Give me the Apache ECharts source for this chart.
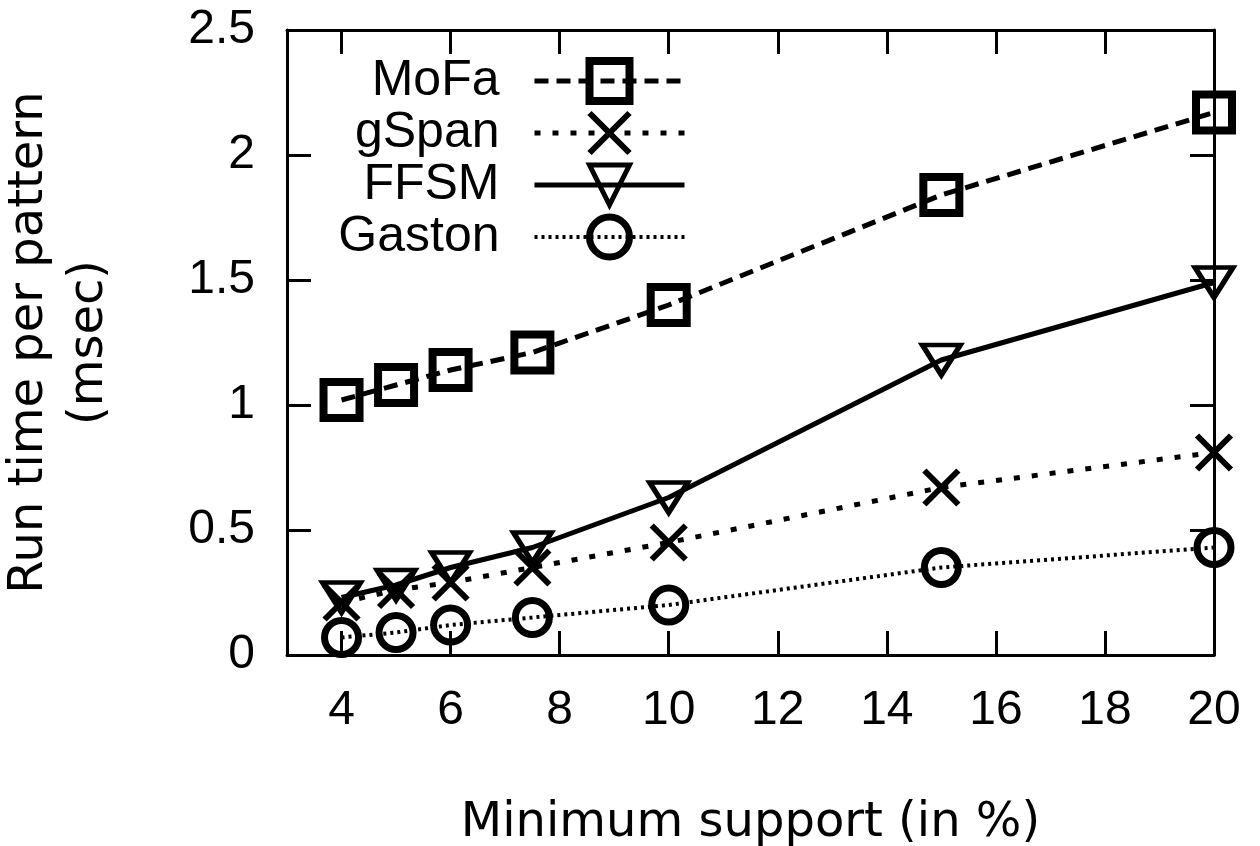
<!DOCTYPE html>
<html>
<head>
<meta charset="utf-8">
<script src="https://cdn.jsdelivr.net/npm/echarts@6/dist/echarts.min.js"></script>
<style>
  html, body { margin: 0; padding: 0; background: #fff; }
  #main { width: 1260px; height: 846px; }
</style>
</head>
<body>
<div id="main"></div>
<script>
// minimum support (%) values
var support = [4, 5, 6, 7.5, 10, 15, 20];
// run time per pattern (msec)
var mofa = [1.02, 1.08, 1.14, 1.21, 1.40, 1.84, 2.17];
var gspan = [0.21, 0.26, 0.29, 0.35, 0.45, 0.67, 0.81];
var ffsm = [0.23, 0.28, 0.35, 0.43, 0.63, 1.18, 1.49];
var gaston = [0.07, 0.09, 0.12, 0.15, 0.20, 0.35, 0.43];

var names = ['MoFa', 'gSpan', 'FFSM', 'Gaston'];

function pairs(ys) {
  return support.map(function (x, i) { return [x, ys[i]]; });
}

var chartDom = document.getElementById('main');
var myChart = echarts.init(chartDom, null, { renderer: 'canvas' });
var option;

var tickFont = 'Liberation Sans, Arial, Helvetica, sans-serif';
var titleFont = 'DejaVu Sans, Verdana, sans-serif';
var black = '#000';

// fresh objects each time, echarts merges into them
function frameLine() {
  return { show: true, onZero: false, lineStyle: { color: black, width: 3 } };
}
function innerTick() {
  return { show: true, inside: true, length: 24, lineStyle: { color: black, width: 3 } };
}

var crossPath = 'path://M0,0 L10,10 M10,0 L0,10';

option = {
  backgroundColor: '#fff',
  animation: false,
  grid: { left: 287, right: 46, top: 30, bottom: 191, containLabel: false, outerBoundsMode: 'none' },
  legend: {
    orient: 'vertical',
    right: 568,
    top: 51,
    align: 'right',
    itemWidth: 150,
    itemHeight: 50,
    itemGap: 2,
    data: [
      { name: names[0], itemStyle: { borderWidth: 8 }, lineStyle: { width: 5 } },
      { name: names[1], itemStyle: { borderWidth: 6 }, lineStyle: { width: 5 } },
      { name: names[2], itemStyle: { borderWidth: 5 }, lineStyle: { width: 5 } },
      { name: names[3], itemStyle: { borderWidth: 7 }, lineStyle: { width: 4 } }
    ],
    textStyle: {
      fontFamily: tickFont,
      fontSize: 50,
      lineHeight: 50,
      color: black,
      padding: [0, 30, 0, 0]
    }
  },
  xAxis: [
    {
      type: 'value',
      min: 3,
      max: 20,
      splitNumber: 8,
      name: 'Minimum support (in %)',
      nameLocation: 'middle',
      nameGap: 145,
      nameTextStyle: { fontFamily: titleFont, fontSize: 48, color: black },
      axisLine: frameLine(),
      axisTick: innerTick(),
      splitLine: { show: false },
      axisLabel: {
        showMinLabel: false,
        margin: 32,
        fontFamily: tickFont,
        fontSize: 48,
        color: black
      }
    },
    {
      type: 'value',
      position: 'top',
      min: 3,
      max: 20,
      splitNumber: 8,
      axisLine: frameLine(),
      axisTick: innerTick(),
      splitLine: { show: false },
      axisLabel: { show: false }
    }
  ],
  yAxis: [
    {
      type: 'value',
      min: 0,
      max: 2.5,
      interval: 0.5,
      name: 'Run time per pattern\n(msec)',
      nameLocation: 'middle',
      nameRotate: 90,
      nameGap: 167,
      nameTextStyle: { fontFamily: titleFont, fontSize: 48, color: black, lineHeight: 60 },
      axisLine: frameLine(),
      axisTick: innerTick(),
      splitLine: { show: false },
      axisLabel: {
        margin: 32,
        fontFamily: tickFont,
        fontSize: 48,
        color: black
      }
    },
    {
      type: 'value',
      position: 'right',
      min: 0,
      max: 2.5,
      interval: 0.5,
      axisLine: frameLine(),
      axisTick: innerTick(),
      splitLine: { show: false },
      axisLabel: { show: false }
    }
  ],
  series: [
    {
      name: 'MoFa',
      type: 'line',
      data: pairs(mofa),
      symbol: 'rect',
      symbolSize: 36,
      itemStyle: { color: 'rgba(0,0,0,0)', borderColor: black, borderWidth: 8 },
      lineStyle: { color: black, width: 5, type: [14, 8] }
    },
    {
      name: 'gSpan',
      type: 'line',
      data: pairs(gspan),
      symbol: crossPath,
      symbolSize: 34,
      itemStyle: { color: 'rgba(0,0,0,0)', borderColor: black, borderWidth: 6 },
      lineStyle: { color: black, width: 5, type: [6, 12] }
    },
    {
      name: 'FFSM',
      type: 'line',
      data: pairs(ffsm),
      symbol: 'triangle',
      symbolRotate: 180,
      symbolSize: [38, 30],
      itemStyle: { color: 'rgba(0,0,0,0)', borderColor: black, borderWidth: 5 },
      lineStyle: { color: black, width: 5, type: 'solid' }
    },
    {
      name: 'Gaston',
      type: 'line',
      data: pairs(gaston),
      symbol: 'circle',
      symbolSize: 34,
      itemStyle: { color: 'rgba(0,0,0,0)', borderColor: black, borderWidth: 7 },
      lineStyle: { color: black, width: 4, type: [3, 4] }
    }
  ]
};

option && myChart.setOption(option);
</script>
</body>
</html>
